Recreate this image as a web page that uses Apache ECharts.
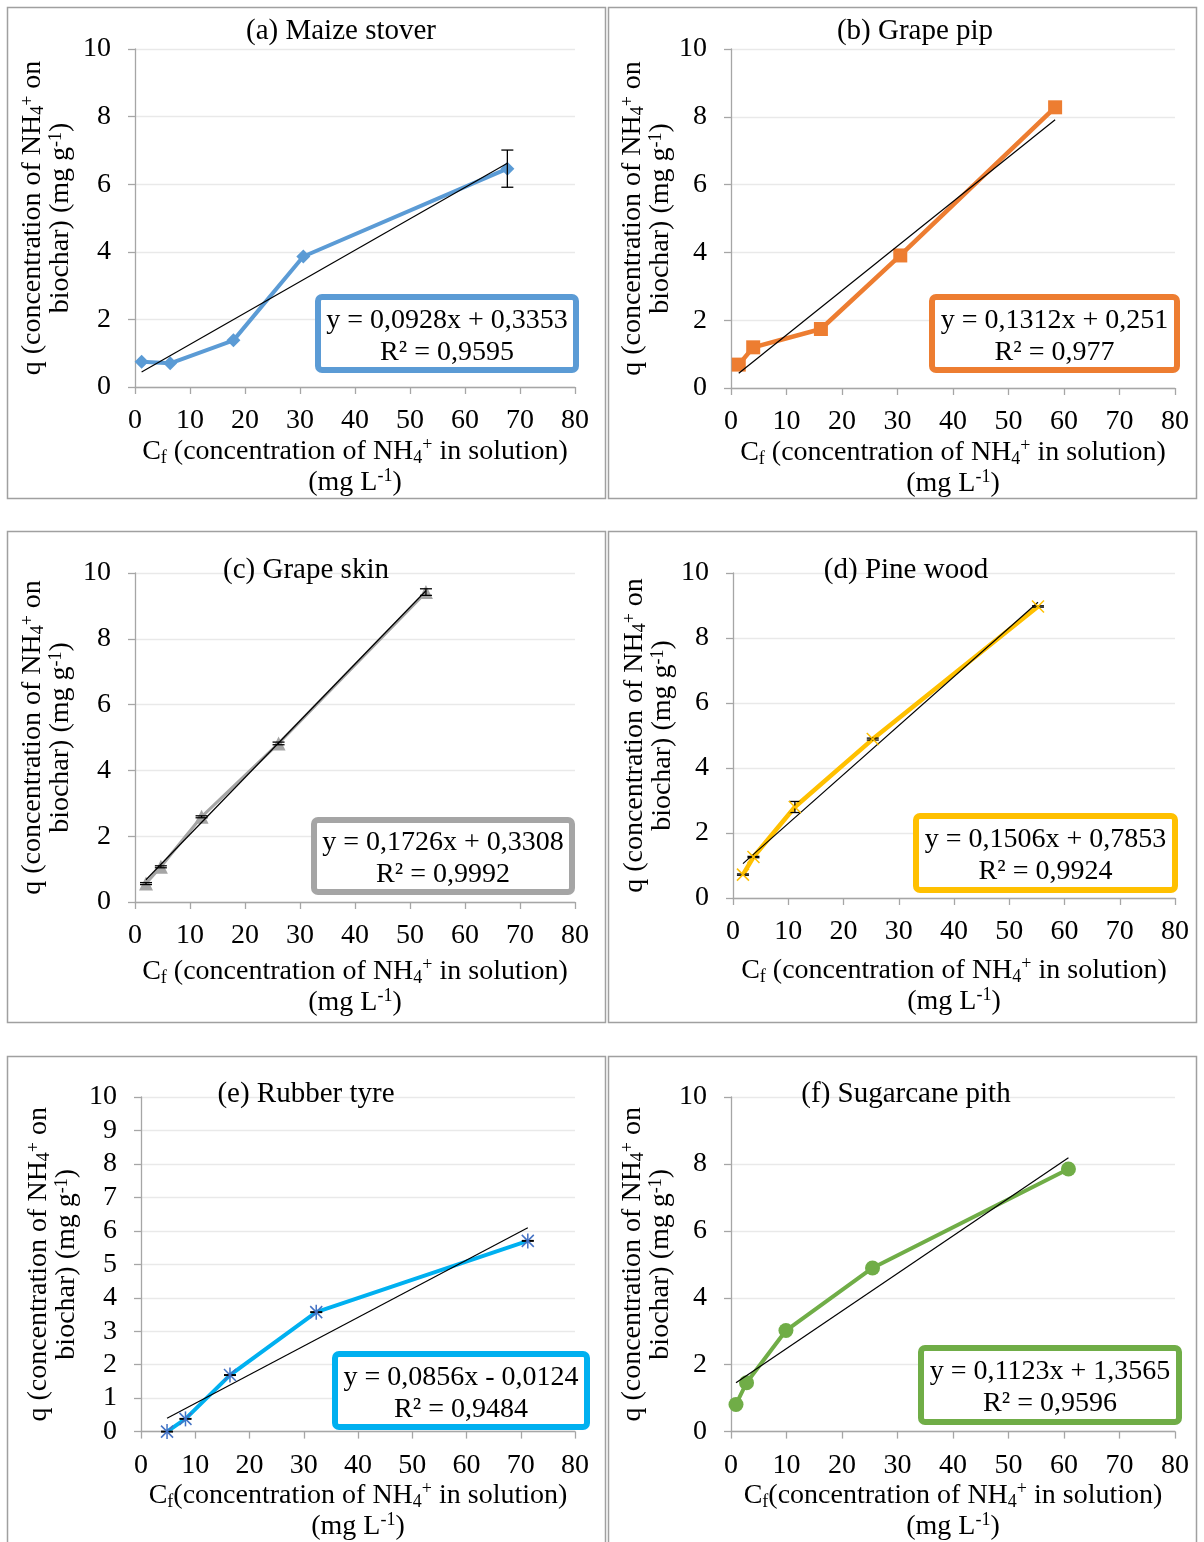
<!DOCTYPE html>
<html>
<head>
<meta charset="utf-8">
<script src="https://cdn.jsdelivr.net/npm/echarts@6/dist/echarts.min.js"></script>
<style>
  html, body { margin: 0; padding: 0; background: #ffffff; }
  #chart { width: 1204px; height: 1542px; }
</style>
</head>
<body>
<div id="chart"></div>
<script>
// NH4+ adsorption isotherms on six biochars: q (mg/g) against Cf (mg/L)

const panelTitles = ['(a) Maize stover', '(b) Grape pip', '(c) Grape skin',
                     '(d) Pine wood', '(e) Rubber tyre', '(f) Sugarcane pith'];

// Tick values shared by every panel
const xTickValues = [0, 10, 20, 30, 40, 50, 60, 70, 80];
const yTickValues = [0, 2, 4, 6, 8, 10];
const yTickValuesFine = [0, 1, 2, 3, 4, 5, 6, 7, 8, 9, 10];

// (a) Maize stover
const maizeCf  = [1.2, 6.4, 17.9, 30.6, 67.7];
const maizeQ   = [0.75, 0.70, 1.38, 3.86, 6.46];
const maizeErr = [0, 0, 0, 0, 0.55];

// (b) Grape pip
const grapePipCf  = [1.4, 4.0, 16.2, 30.5, 58.4];
const grapePipQ   = [0.69, 1.20, 1.74, 3.91, 8.28];
const grapePipErr = [0, 0, 0, 0, 0];

// (c) Grape skin
const grapeSkinCf  = [2.0, 4.7, 12.1, 26.1, 52.9];
const grapeSkinQ   = [0.56, 1.07, 2.59, 4.82, 9.42];
const grapeSkinErr = [0.03, 0.03, 0.03, 0.04, 0.1];

// (d) Pine wood
const pineCf  = [1.8, 3.7, 11.2, 25.3, 55.2];
const pineQ   = [0.72, 1.26, 2.80, 4.89, 8.97];
const pineErr = [0.02, 0.02, 0.17, 0.03, 0.02];

// (e) Rubber tyre
const tyreCf  = [4.8, 8.2, 16.4, 32.3, 71.3];
const tyreQ   = [0.00, 0.38, 1.69, 3.57, 5.70];
const tyreErr = [0.01, 0.01, 0.01, 0.01, 0.01];

// (f) Sugarcane pith
const pithCf  = [0.9, 2.8, 9.9, 25.5, 60.8];
const pithQ   = [0.81, 1.46, 3.02, 4.89, 7.85];
const pithErr = [0, 0, 0, 0, 0];

// Linear fits y = slope * x + intercept
const trendSlope     = [0.0928, 0.1312, 0.1726, 0.1506, 0.0856, 0.1123];
const trendIntercept = [0.3353, 0.251, 0.3308, 0.7853, -0.0124, 1.3565];
const trendR2        = ['0,9595', '0,977', '0,9992', '0,9924', '0,9484', '0,9596'];

const seriesColors = ['#5B9BD5', '#ED7D31', '#A5A5A5', '#FFC000', '#00B0F0', '#70AD47'];

const FONT = '"Liberation Serif", "Times New Roman", serif';
const FS = 28;

const panels = [
  { cf: maizeCf, q: maizeQ, err: maizeErr, marker: 'diamond', size: 14, lw: 4,
    grid: { left: 135, top: 49, width: 440, height: 338 }, frame: [7, 7, 598, 491],
    title: [341, 31], box: [315, 294, 264, 79], xGap: 46, yGap: 60, yTicks: yTickValues, cfSpace: true },
  { cf: grapePipCf, q: grapePipQ, err: grapePipErr, marker: 'rect', size: 14, lw: 4.5,
    grid: { left: 731, top: 49, width: 444, height: 339 }, frame: [608, 7, 588, 491],
    title: [915, 31], box: [929, 294, 251, 79], xGap: 46, yGap: 56, yTicks: yTickValues, cfSpace: true },
  { cf: grapeSkinCf, q: grapeSkinQ, err: grapeSkinErr, marker: 'triangle', size: 14, lw: 3,
    grid: { left: 135, top: 573, width: 440, height: 329 }, frame: [7, 531, 598, 491],
    title: [306, 570], box: [311, 817, 264, 78], xGap: 55, yGap: 60, yTicks: yTickValues, cfSpace: true },
  { cf: pineCf, q: pineQ, err: pineErr, marker: 'cross', size: 12, lw: 4.5,
    grid: { left: 733, top: 573, width: 442, height: 325 }, frame: [608, 531, 588, 491],
    title: [906, 570], box: [913, 813, 265, 80], xGap: 58, yGap: 56, yTicks: yTickValues, cfSpace: true },
  { cf: tyreCf, q: tyreQ, err: tyreErr, marker: 'asterisk', size: 12, lw: 4,
    grid: { left: 141, top: 1097, width: 434, height: 336 }, frame: [7, 1056, 598, 520],
    title: [306, 1094], box: [332, 1351, 258, 79], xGap: 49, yGap: 60, yTicks: yTickValuesFine, cfSpace: false },
  { cf: pithCf, q: pithQ, err: pithErr, marker: 'circle', size: 15, lw: 4,
    grid: { left: 731, top: 1097, width: 444, height: 336 }, frame: [608, 1056, 588, 520],
    title: [906, 1094], box: [918, 1345, 264, 80], xGap: 49, yGap: 56, yTicks: yTickValues, cfSpace: false }
];

function fmt(v) { return String(v).replace('.', ','); }
function equationText(i) {
  const b = trendIntercept[i];
  const sign = b < 0 ? ' - ' : ' + ';
  return 'y = ' + fmt(trendSlope[i]) + 'x' + sign + fmt(Math.abs(b)) + '\nR\u00B2 = ' + trendR2[i];
}

function richStyles(lh) {
  return {
    t:   { fontFamily: FONT, fontSize: FS, color: '#000', lineHeight: lh },
    sub: { fontFamily: FONT, fontSize: 18, color: '#000', lineHeight: 14, verticalAlign: 'bottom' },
    sup: { fontFamily: FONT, fontSize: 18, color: '#000', lineHeight: 14, verticalAlign: 'top' }
  };
}

function xName(space) {
  return '{t|C}{sub|f}{t|' + (space ? ' ' : '') + '(concentration of NH}{sub|4}{sup|+}{t| in solution)}\n' +
         '{t|(mg L}{sup|-1}{t|)}';
}
const yName = '{t|q (concentration of NH}{sub|4}{sup|+}{t| on}\n{t|biochar) (mg g}{sup|-1}{t|)}';

// error bar: vertical whisker with caps
function renderErrorBar(params, api) {
  const x = api.value(0), y = api.value(1), e = api.value(2);
  if (!e) return null;
  const hi = api.coord([x, y + e]);
  const lo = api.coord([x, y - e]);
  const half = 6;
  const st = { stroke: '#000', lineWidth: 1.3 };
  return {
    type: 'group',
    children: [
      { type: 'line', shape: { x1: hi[0], y1: hi[1], x2: lo[0], y2: lo[1] }, style: st },
      { type: 'line', shape: { x1: hi[0] - half, y1: hi[1], x2: hi[0] + half, y2: hi[1] }, style: st },
      { type: 'line', shape: { x1: lo[0] - half, y1: lo[1], x2: lo[0] + half, y2: lo[1] }, style: st }
    ]
  };
}

// stroked point markers (x and asterisk)
function makeStrokeMarker(kind, color, r) {
  return function (params, api) {
    const p = api.coord([api.value(0), api.value(1)]);
    const st = { stroke: color, lineWidth: 1.5 };
    const kids = [
      { type: 'line', shape: { x1: p[0] - r, y1: p[1] - r, x2: p[0] + r, y2: p[1] + r }, style: st },
      { type: 'line', shape: { x1: p[0] - r, y1: p[1] + r, x2: p[0] + r, y2: p[1] - r }, style: st }
    ];
    if (kind === 'asterisk') {
      kids.push({ type: 'line', shape: { x1: p[0], y1: p[1] - r * 1.25, x2: p[0], y2: p[1] + r * 1.25 }, style: st });
    }
    return { type: 'group', children: kids };
  };
}

const grids = [], xAxes = [], yAxes = [], series = [], graphics = [];

panels.forEach(function (pn, i) {
  const color = seriesColors[i];
  grids.push(Object.assign({ containLabel: false }, pn.grid));

  xAxes.push({
    type: 'value', gridIndex: i,
    min: xTickValues[0], max: xTickValues[xTickValues.length - 1],
    interval: xTickValues[1] - xTickValues[0],
    axisLine: { show: true, lineStyle: { color: '#A6A6A6', width: 1.3 } },
    axisTick: { show: true, length: 7, lineStyle: { color: '#A6A6A6', width: 1.3 } },
    splitLine: { show: false },
    axisLabel: { fontFamily: FONT, fontSize: FS, color: '#000', margin: 20 },
    name: xName(pn.cfSpace), nameLocation: 'middle', nameGap: pn.xGap - 1,
    nameTextStyle: { rich: richStyles(31), align: 'center' }
  });

  yAxes.push({
    type: 'value', gridIndex: i,
    min: pn.yTicks[0], max: pn.yTicks[pn.yTicks.length - 1],
    interval: pn.yTicks[1] - pn.yTicks[0],
    axisLine: { show: true, lineStyle: { color: '#A6A6A6', width: 1.3 } },
    axisTick: { show: true, length: 7, lineStyle: { color: '#A6A6A6', width: 1.3 } },
    splitLine: { show: true, lineStyle: { color: '#E9E9E9', width: 1.3 } },
    axisLabel: { fontFamily: FONT, fontSize: FS, color: '#000', margin: 24 },
    name: yName, nameLocation: 'middle', nameGap: pn.yGap, nameRotate: 90,
    nameTextStyle: { rich: richStyles(28), align: 'center' }
  });

  const pts = pn.cf.map(function (x, k) { return [x, pn.q[k]]; });
  const errPts = pn.cf.map(function (x, k) { return [x, pn.q[k], pn.err[k]]; });
  const stroked = pn.marker === 'cross' || pn.marker === 'asterisk';

  series.push({
    type: 'line', xAxisIndex: i, yAxisIndex: i, data: pts,
    lineStyle: { color: color, width: pn.lw },
    itemStyle: { color: color },
    symbol: stroked ? 'none' : pn.marker, symbolSize: pn.size, showSymbol: !stroked,
    animation: false, z: 2
  });

  // fitted line drawn from the stated equation across the data range
  const xMin = Math.min.apply(null, pn.cf), xMax = Math.max.apply(null, pn.cf);
  series.push({
    type: 'line', xAxisIndex: i, yAxisIndex: i,
    data: [[xMin, trendSlope[i] * xMin + trendIntercept[i]], [xMax, trendSlope[i] * xMax + trendIntercept[i]]],
    lineStyle: { color: '#000', width: 1.2 }, symbol: 'none', animation: false, z: 3
  });

  series.push({
    type: 'custom', xAxisIndex: i, yAxisIndex: i, data: errPts,
    encode: { x: 0, y: 1 }, renderItem: renderErrorBar, animation: false, z: 4, clip: false
  });

  if (stroked) {
    const mColor = pn.marker === 'asterisk' ? '#4472C4' : color;
    series.push({
      type: 'custom', xAxisIndex: i, yAxisIndex: i, data: pts,
      encode: { x: 0, y: 1 }, renderItem: makeStrokeMarker(pn.marker, mColor, pn.size / 2),
      animation: false, z: 5
    });
  }

  // panel frame
  graphics.push({
    type: 'rect', z: 0,
    shape: { x: pn.frame[0] + 0.5, y: pn.frame[1] + 0.5, width: pn.frame[2], height: pn.frame[3] },
    style: { fill: null, stroke: '#A0A0A0', lineWidth: 1.5 }
  });

  // panel title
  graphics.push({
    type: 'text', z: 10, x: pn.title[0], y: pn.title[1],
    style: { text: panelTitles[i], font: '29px ' + FONT, fill: '#000',
             align: 'center', verticalAlign: 'middle', textAlign: 'center', textVerticalAlign: 'middle' }
  });

  // equation box
  const b = pn.box;
  graphics.push({
    type: 'rect', z: 20,
    shape: { x: b[0] + 3, y: b[1] + 3, width: b[2] - 6, height: b[3] - 6, r: 4 },
    style: { fill: '#fff', stroke: color, lineWidth: 6 }
  });
  graphics.push({
    type: 'text', z: 21, x: b[0] + b[2] / 2, y: b[1] + b[3] / 2 + 3,
    style: { text: equationText(i), font: FS + 'px ' + FONT, fill: '#000', lineHeight: 32,
             align: 'center', verticalAlign: 'middle', textAlign: 'center', textVerticalAlign: 'middle' }
  });
});

const chart = echarts.init(document.getElementById('chart'), null, { renderer: 'canvas' });
chart.setOption({
  backgroundColor: '#ffffff',
  animation: false,
  grid: grids,
  xAxis: xAxes,
  yAxis: yAxes,
  series: series,
  graphic: { elements: graphics }
});
</script>
</body>
</html>
